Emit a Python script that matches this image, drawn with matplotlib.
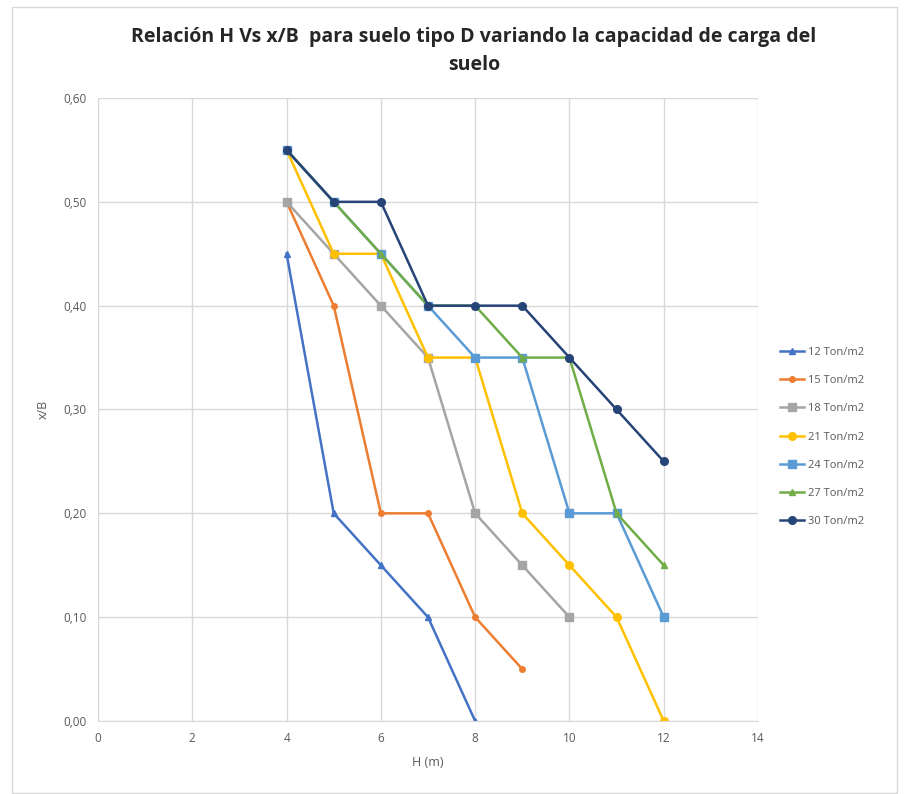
import matplotlib
matplotlib.use("Agg")
import matplotlib.pyplot as plt
from matplotlib.patches import Rectangle

plt.rcParams['font.family'] = ['Open Sans', 'DejaVu Sans']

series_names = ["12 Ton/m2", "15 Ton/m2", "18 Ton/m2", "21 Ton/m2",
                "24 Ton/m2", "27 Ton/m2", "30 Ton/m2"]
h_12 = [4, 5, 6, 7, 8]
xb_12 = [0.45, 0.20, 0.15, 0.10, 0.00]
h_15 = [4, 5, 6, 7, 8, 9]
xb_15 = [0.50, 0.40, 0.20, 0.20, 0.10, 0.05]
h_18 = [4, 5, 6, 7, 8, 9, 10]
xb_18 = [0.50, 0.45, 0.40, 0.35, 0.20, 0.15, 0.10]
h_21 = [4, 5, 6, 7, 8, 9, 10, 11, 12]
xb_21 = [0.55, 0.45, 0.45, 0.35, 0.35, 0.20, 0.15, 0.10, 0.00]
h_24 = [4, 5, 6, 7, 8, 9, 10, 11, 12]
xb_24 = [0.55, 0.50, 0.45, 0.40, 0.35, 0.35, 0.20, 0.20, 0.10]
h_27 = [4, 5, 6, 7, 8, 9, 10, 11, 12]
xb_27 = [0.55, 0.50, 0.45, 0.40, 0.40, 0.35, 0.35, 0.20, 0.15]
h_30 = [4, 5, 6, 7, 8, 9, 10, 11, 12]
xb_30 = [0.55, 0.50, 0.50, 0.40, 0.40, 0.40, 0.35, 0.30, 0.25]

x_ticks = [0, 2, 4, 6, 8, 10, 12, 14]
y_ticks = [0.0, 0.1, 0.2, 0.3, 0.4, 0.5, 0.6]
y_tick_labels = ["0,00", "0,10", "0,20", "0,30", "0,40", "0,50", "0,60"]

colors = ["#4472C4", "#ED7D31", "#A5A5A5", "#FFC000", "#5B9BD5", "#70AD47", "#264478"]
markers = ["^", "o", "s", "o", "s", "^", "o"]
msizes = [5, 4, 5.5, 5.5, 5.5, 5, 5.5]

data = [(h_12, xb_12), (h_15, xb_15), (h_18, xb_18), (h_21, xb_21),
        (h_24, xb_24), (h_27, xb_27), (h_30, xb_30)]

fig = plt.figure(figsize=(9.05, 7.94), dpi=100)
fig.patches.append(Rectangle((12/905, 1/794), 885/905, 786/794, transform=fig.transFigure,
                             fill=False, edgecolor="#d9d9d9", linewidth=1))
ax = fig.add_axes([98/905, 1-721/794, 660/905, 623/794])

for (hx, yv), name, c, m, ms in zip(data, series_names, colors, markers, msizes):
    ax.plot(hx, yv, color=c, marker=m, markersize=ms, linewidth=1.8, label=name,
            markeredgecolor=c)

ax.set_xlim(0, 14)
ax.set_ylim(0, 0.6)
ax.set_xticks(x_ticks)
ax.set_yticks(y_ticks)
ax.set_yticklabels(y_tick_labels)
ax.grid(True, color="#d9d9d9", linewidth=1)
ax.set_axisbelow(True)
for s in ["top", "right"]:
    ax.spines[s].set_visible(False)
for s in ["left", "bottom"]:
    ax.spines[s].set_color("#d9d9d9")
ax.tick_params(length=0, colors="#595959", labelsize=8.5, pad=8)
ax.set_xlabel("H (m)", color="#595959", fontsize=9, labelpad=8)
ax.set_ylabel("x/B", color="#595959", fontsize=9, labelpad=10)

fig.text(474/905, 1-37/794, "Relación H Vs x/B  para suelo tipo D variando la capacidad de carga del",
         ha="center", va="center", fontsize=14, fontweight="bold", color="#262626")
fig.text(474/905, 1-65/794, "suelo", ha="center", va="center", fontsize=14,
         fontweight="bold", color="#262626")

leg = ax.legend(loc="center left", bbox_to_anchor=((770 - 98) / 660, (721 - 437) / 623),
                frameon=False, fontsize=8, labelcolor="#595959", handlelength=2.2,
                labelspacing=1.55, handletextpad=0.3)

fig.savefig("out.png", dpi=100)
